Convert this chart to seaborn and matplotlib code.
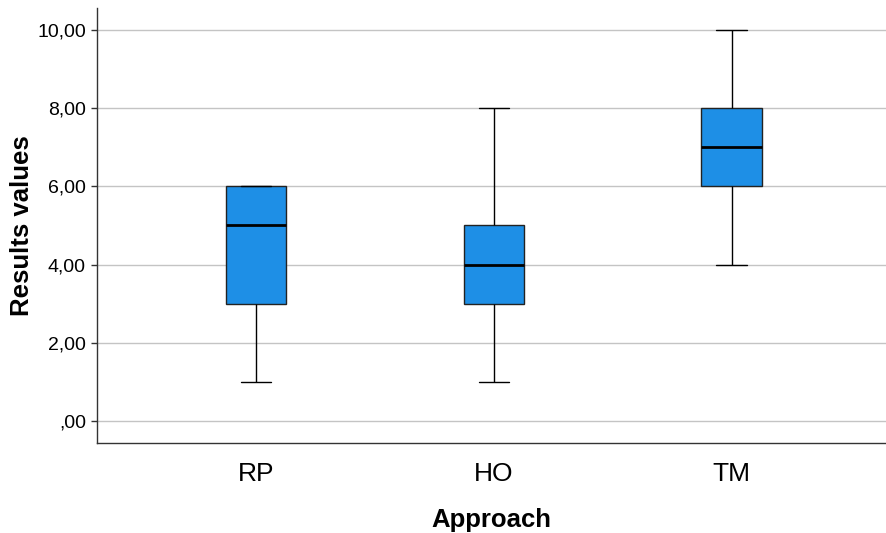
import pandas as pd
import seaborn as sns
import matplotlib.pyplot as plt

# five-number summaries (min, Q1, median, Q3, max)
approaches = ['RP', 'HO', 'TM']
rp_values = [1, 3, 5, 6, 6]
ho_values = [1, 3, 4, 5, 8]
tm_values = [4, 6, 7, 8, 10]
y_ticks = [0, 2, 4, 6, 8, 10]

df = pd.DataFrame({
    'Approach': ['RP'] * len(rp_values) + ['HO'] * len(ho_values) + ['TM'] * len(tm_values),
    'Results values': rp_values + ho_values + tm_values,
})

sns.set_style("white")
plt.rcParams['font.family'] = ['Liberation Sans', 'DejaVu Sans']
plt.rcParams['text.color'] = 'black'
plt.rcParams['axes.labelcolor'] = 'black'
plt.rcParams['xtick.color'] = 'black'
plt.rcParams['ytick.color'] = 'black'

fig = plt.figure(figsize=(8.86, 5.33), dpi=100)
ax = fig.add_axes([0.1095, 0.169, 0.8905, 0.816])

sns.boxplot(data=df, x='Approach', y='Results values', order=approaches,
            color='#1E8FE6', saturation=1, width=0.253, whis=(0, 100),
            linecolor='#222222', linewidth=1, ax=ax,
            medianprops={'color': 'black', 'linewidth': 2},
            whiskerprops={'color': 'black', 'linewidth': 1},
            capprops={'color': 'black', 'linewidth': 1})

ax.set_ylim(-0.56, 10.56)
ax.set_xlim(-0.67, 2.65)
ax.set_yticks(y_ticks)
# formato tipo SPSS: coma decimal, sin cero inicial
ax.yaxis.set_major_formatter(plt.FuncFormatter(
    lambda v, _: ',00' if v == 0 else f'{v:.2f}'.replace('.', ',')))
ax.yaxis.grid(True, color='#c4c4c4', linewidth=1)
ax.set_axisbelow(True)

for side in ['top', 'right']:
    ax.spines[side].set_visible(False)
for side in ['left', 'bottom']:
    ax.spines[side].set_color('#333333')
    ax.spines[side].set_linewidth(1)

ax.tick_params(axis='y', left=True, length=4, width=1, color='#333333', labelsize=14, pad=4)
ax.tick_params(axis='x', bottom=False, labelsize=19, pad=10)

ax.set_xlabel('Approach', fontsize=18.5, fontweight='bold', labelpad=16)
ax.set_ylabel('Results values', fontsize=18.5, fontweight='bold', labelpad=2)

plt.savefig('out.png', dpi=100)
